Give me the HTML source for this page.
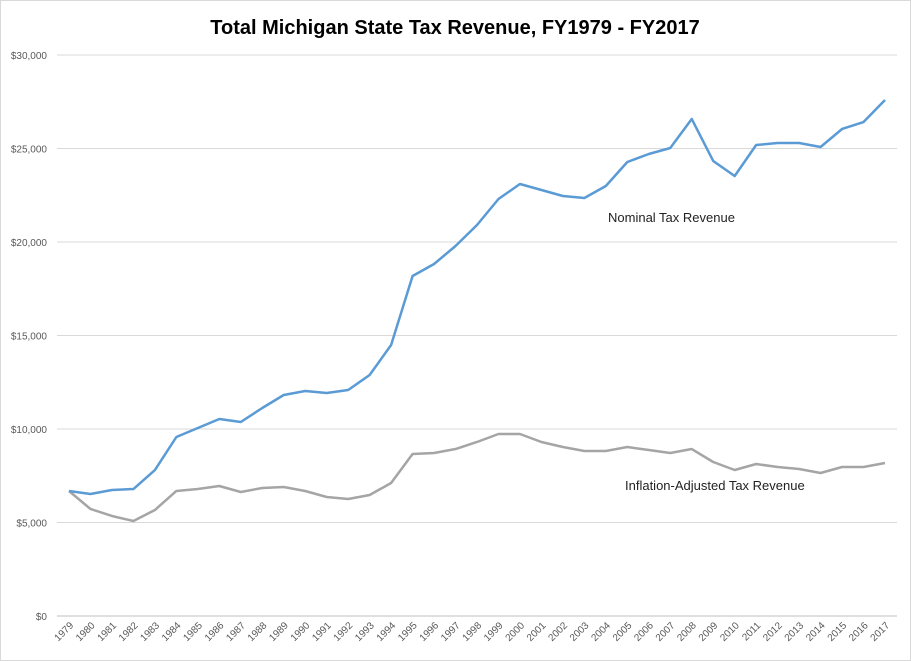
<!DOCTYPE html>
<html><head><meta charset="utf-8"><style>
body{margin:0;background:#fff;}
svg{display:block;font-family:"Liberation Sans",Calibri,sans-serif;}
</style></head><body>
<svg id="chart" width="911" height="661" viewBox="0 0 911 661">
<rect x="0.5" y="0.5" width="910" height="660" fill="#fff" stroke="#d9d9d9"/>
<text x="455" y="34" text-anchor="middle" font-size="20" font-weight="bold" fill="#000">Total Michigan State Tax Revenue, FY1979 - FY2017</text>
<g id="grid"></g><g id="yt"></g><g id="xt"></g><g id="series"></g>
<text x="608" y="222" font-size="13" fill="#222">Nominal Tax Revenue</text>
<text x="625" y="490" font-size="13" fill="#222">Inflation-Adjusted Tax Revenue</text>
</svg>
<script>
const years=[];for(let y=1979;y<=2017;y++)years.push(y);
const nominal=[6685,6524,6738,6791,7807,9572,10053,10535,10374,11123,11818,12032,11925,12086,12888,14492,18182,18824,19786,20909,22299,23102,22781,22460,22353,22995,24278,24706,25027,26578,24332,23529,25187,25294,25294,25080,26043,26417,27594];
const adjusted=[6685,5722,5348,5080,5668,6685,6791,6952,6631,6845,6898,6685,6364,6257,6471,7112,8663,8717,8930,9305,9733,9733,9305,9037,8824,8824,9037,8877,8717,8930,8235,7807,8128,7968,7861,7647,7968,7968,8182];
const yTicks=[0,5000,10000,15000,20000,25000,30000];
const NS="http://www.w3.org/2000/svg";
const x0=69,x1=885,y0=616,y1=55,ymax=30000;
const X=i=>x0+(x1-x0)*i/(years.length-1);
const Y=v=>y0-(y0-y1)*v/ymax;
function mk(t,a,p){const e=document.createElementNS(NS,t);for(const k in a)e.setAttribute(k,a[k]);p.appendChild(e);return e;}
const grid=document.getElementById('grid'),yt=document.getElementById('yt'),xt=document.getElementById('xt'),ser=document.getElementById('series');
yTicks.forEach(v=>{
 const l=mk('line',{x1:57,x2:897,y1:Y(v),y2:Y(v),stroke:v===0?'#bfbfbf':'#d9d9d9','stroke-width':1},grid);
 
 
 const t=mk('text',{x:47,y:Y(v)+4,'text-anchor':'end','font-size':10,fill:'#595959'},yt);
 t.textContent='$'+v.toLocaleString('en-US');
 
 
});
years.forEach((yr,i)=>{
 const t=mk('text',{x:X(i)+5,y:626,'text-anchor':'end','font-size':10,fill:'#595959',transform:`rotate(-45 ${X(i)+5} 626)`},xt);
 t.textContent=yr;
 
 
});
function line(d,c,n){
 const p=mk('polyline',{points:d.map((v,i)=>X(i)+','+Y(v)).join(' '),fill:'none',stroke:c,'stroke-width':2.5,'stroke-linejoin':'round'},ser);
 
 
}
line(adjusted,'#a5a5a5','inflation-adjusted-line');
line(nominal,'#5b9bd5','nominal-line');
</script>
</body></html>
